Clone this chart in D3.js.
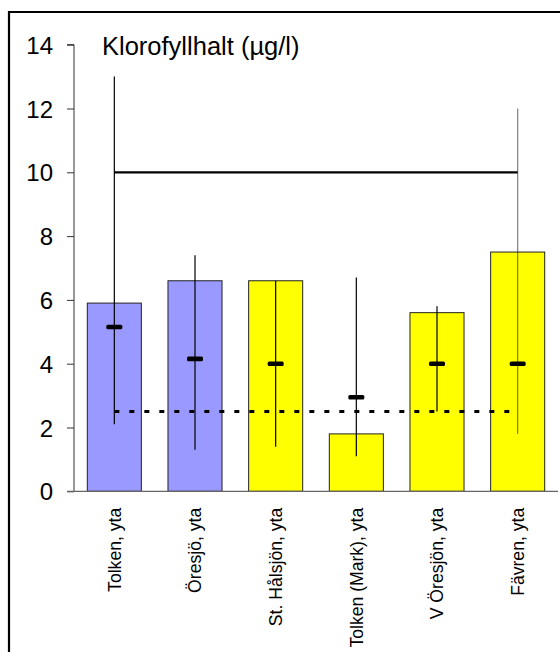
<!DOCTYPE html>
<html>
<head>
<meta charset="utf-8">
<script src="https://cdn.jsdelivr.net/npm/d3@7"></script>
<style>
  html, body { margin: 0; padding: 0; background: #fff; overflow: hidden; }
  svg { display: block; font-family: "Liberation Sans", Arial, sans-serif; }
</style>
</head>
<body>
<svg id="chart" width="560" height="652"></svg>
<script>
// Chlorophyll per lake (surface samples)
const lakes = ["Tolken, yta", "Öresjö, yta", "St. Hålsjön, yta", "Tolken (Mark), yta", "V Öresjön, yta", "Fävren, yta"];
const groups = ["blue", "blue", "yellow", "yellow", "yellow", "yellow"];
const values = [5.9, 6.6, 6.6, 1.8, 5.6, 7.5];
const rangeLow = [2.1, 1.3, 1.4, 1.1, 2.5, 1.8];
const rangeHigh = [13.0, 7.4, 6.6, 6.7, 5.8, 12.0];
const medians = [5.15, 4.15, 4.0, 2.95, 4.0, 4.0];
const yTicks = [0, 2, 4, 6, 8, 10, 12, 14];
const upperLimit = 10;
const lowerLimit = 2.5;
const title = "Klorofyllhalt (µg/l)";

const fills = { blue: "#9999ff", yellow: "#ffff00" };
const rows = lakes.map((name, i) => ({
  name, group: groups[i], value: values[i],
  lo: rangeLow[i], hi: rangeHigh[i], med: medians[i], faint: i === lakes.length - 1
}));

const svg = d3.select("#chart");
const plotLeft = 74, plotRight = 558, plotTop = 44.7, plotBottom = 491.3;

const x = d3.scaleBand().domain(lakes).range([plotLeft, plotRight]).paddingInner(0.33).paddingOuter(0.165);
const xc = d => x(d) + x.bandwidth() / 2;
const y = d3.scaleLinear().domain([0, 14]).range([plotBottom, plotTop]);

// frame: top and left edges
svg.append("line").attr("x1", 8).attr("x2", 560).attr("y1", 12).attr("y2", 12)
  .attr("stroke", "#000").attr("stroke-width", 2.2);
svg.append("line").attr("x1", 9).attr("x2", 9).attr("y1", 11).attr("y2", 652)
  .attr("stroke", "#000").attr("stroke-width", 2.2);

// bars
svg.append("g").selectAll("rect").data(rows).join("rect")
  .attr("x", d => x(d.name)).attr("width", x.bandwidth())
  .attr("y", d => y(d.value)).attr("height", d => y(0) - y(d.value))
  .attr("fill", d => fills[d.group])
  .attr("stroke", "#222").attr("stroke-width", 1);

// y axis
const yAxis = d3.axisLeft(y).tickValues(yTicks).tickSize(7).tickPadding(14).tickFormat(d3.format("d"));
const gy = svg.append("g").attr("transform", `translate(${plotLeft},0)`).call(yAxis);
gy.select(".domain").attr("stroke", "#333").attr("d", `M-7,${plotTop}H0V${plotBottom}`);
gy.selectAll(".tick line").attr("stroke", "#333");
gy.selectAll(".tick text").attr("font-size", 24).attr("fill", "#000")
  .attr("font-family", "'Liberation Sans', Arial, sans-serif").attr("dy", "0.36em");

// x axis
const xAxis = d3.axisBottom(x).tickSize(0).tickPadding(0);
const gx = svg.append("g").attr("transform", `translate(0,${plotBottom})`).call(xAxis);
gx.select(".domain").attr("stroke", "#666").attr("stroke-width", 1.2).attr("d", `M${plotLeft - 7},0H${plotRight}`);
gx.selectAll(".tick text")
  .attr("font-size", 17.6).attr("fill", "#000")
  .attr("font-family", "'Liberation Sans', Arial, sans-serif")
  .attr("text-anchor", "end")
  .attr("transform", "translate(0,16.5) rotate(-90)")
  .attr("x", 0).attr("y", 0).attr("dy", "0.35em");

// reference levels
const first = xc(lakes[0]), last = xc(lakes[lakes.length - 1]);
svg.append("line")
  .attr("x1", first).attr("x2", last).attr("y1", y(upperLimit)).attr("y2", y(upperLimit))
  .attr("stroke", "#000").attr("stroke-width", 2.2);

// min-max ranges
svg.append("g").selectAll("line").data(rows).join("line")
  .attr("x1", d => xc(d.name)).attr("x2", d => xc(d.name))
  .attr("y1", d => y(d.lo)).attr("y2", d => y(d.hi))
  .attr("stroke", "#000").attr("stroke-width", 1.2)
  .attr("stroke-opacity", d => d.faint ? 0.5 : 1);

svg.append("line")
  .attr("x1", first).attr("x2", last).attr("y1", y(lowerLimit)).attr("y2", y(lowerLimit))
  .attr("stroke", "#000").attr("stroke-width", 3).attr("stroke-dasharray", "5,10");

// medians
svg.append("g").selectAll("rect").data(rows).join("rect")
  .attr("x", d => xc(d.name) - 8).attr("width", 16)
  .attr("y", d => y(d.med) - 2.3).attr("height", 4.6)
  .attr("rx", 1.5).attr("fill", "#000");

// title
svg.append("text")
  .attr("x", 102).attr("y", 55)
  .attr("font-size", 25.5).attr("fill", "#000")
  .text(title);
</script>
</body>
</html>
